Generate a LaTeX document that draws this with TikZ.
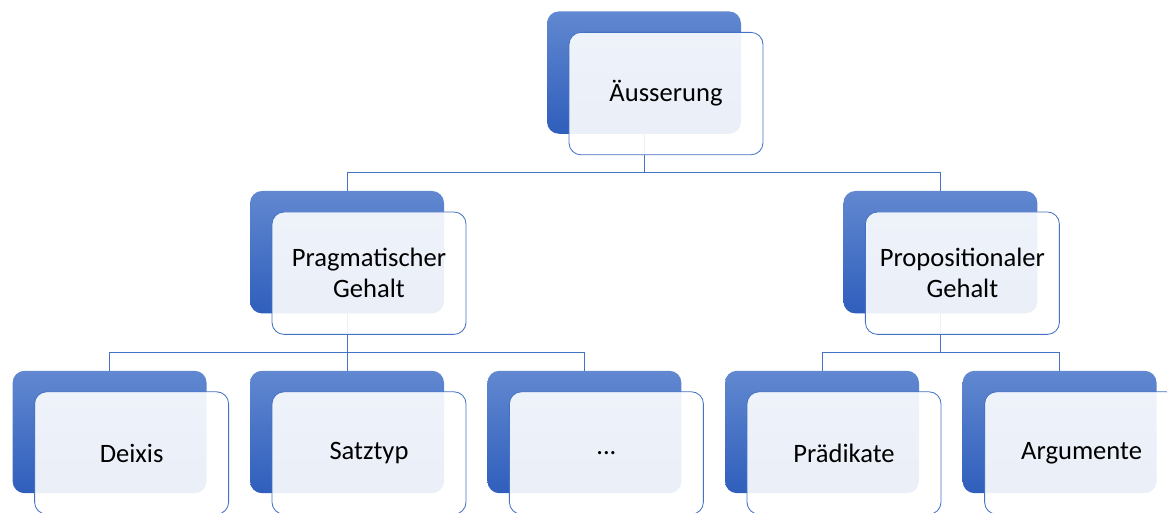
\documentclass[tikz,border=0pt]{standalone}
\usepackage{fontspec}
\setmainfont{Carlito}
\definecolor{hierTop}{RGB}{97,136,208}
\definecolor{hierBot}{RGB}{47,94,188}
\definecolor{hierLine}{RGB}{68,114,196}

\begin{document}
\begin{tikzpicture} [back/.style={rounded corners=0.3cm, top color=hierTop, bottom color=hierBot,
                       minimum width=4.85cm, minimum height=3.06cm, inner sep=0, outer sep=0},
                     front/.style={rounded corners=0.3cm, draw=hierLine, line width=0.6pt,
                       fill=white, fill opacity=0.9, text opacity=1, align=center,
                       minimum width=4.85cm, minimum height=3.06cm, inner sep=0, outer sep=0,
                       font=\fontsize{18.9}{22}\selectfont},
                     link/.style={draw=hierLine, line width=0.6pt}]
\clip (0, 0) rectangle (29.175, 12.825);

% blue back boxes
\path (16.1, 11.01) node[back] (u) {}
      (8.675, 6.52) node[back] (p) {}
      (23.51, 6.52) node[back] (q) {}
      (2.74, 2.025) node[back] (p1) {}
      (8.675, 2.025) node[back] (p2) {}
      (14.61, 2.025) node[back] (p3) {}
      (20.55, 2.025) node[back] (q1) {}
      (26.49, 2.025) node[back] (q2) {};

% links
\draw[link] (u.south) -- ++(0, -0.97) -| (p.north);
\draw[link] (u.south) -- ++(0, -0.97) -| (q.north);
\draw[link] (p.south) -- ++(0, -0.97) -| (p1.north);
\draw[link] (p.south) -- (p2.north);
\draw[link] (p.south) -- ++(0, -0.97) -| (p3.north);
\draw[link] (q.south) -- ++(0, -0.97) -| (q1.north);
\draw[link] (q.south) -- ++(0, -0.97) -| (q2.north);

% light front boxes
\path ([shift={(0.55, -0.525)}]u.center) node[front] (ut) {Äusserung}
      ([shift={(0.55, -0.525)}]p.center) node[front] (pt) {Pragmatischer\\Gehalt}
      ([shift={(0.55, -0.525)}]q.center) node[front] (qt) {Propositionaler\\Gehalt}
      ([shift={(0.55, -0.525)}]p1.center) node[front] (p1t) {Deixis}
      ([shift={(0.55, -0.525)}]p2.center) node[front] (p2t) {Satztyp}
      ([shift={(0.55, -0.525)}]p3.center) node[front] (p3t) {...}
      ([shift={(0.55, -0.525)}]q1.center) node[front] (q1t) {Prädikate}
      ([shift={(0.55, -0.525)}]q2.center) node[front] (q2t) {Argumente};

\end{tikzpicture}
\end{document}
